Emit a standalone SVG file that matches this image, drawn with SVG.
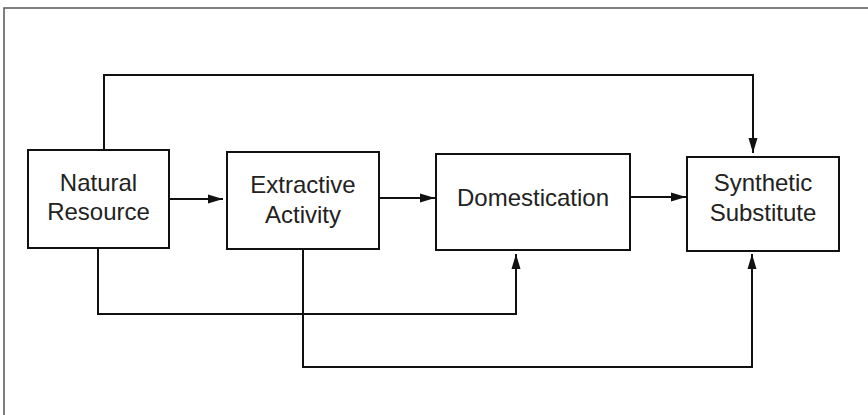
<svg xmlns="http://www.w3.org/2000/svg" width="868" height="415" viewBox="0 0 868 415">
<style>
.frame{fill:none;stroke:#555;stroke-width:1.5}
.box{fill:#fff;stroke:#111;stroke-width:2}
.lbl{font-family:"Liberation Sans",Arial,sans-serif;font-size:24px;fill:#222;text-anchor:middle}
.conn{fill:none;stroke:#111;stroke-width:2}
</style>
<defs>
<marker id="arr" markerUnits="userSpaceOnUse" markerWidth="16" markerHeight="10" viewBox="0 0 16 10" refX="15" refY="5" orient="auto">
<path d="M0,0.5 L15,5 L0,9.5 Z" fill="#111"/>
</marker>
</defs>
<rect class="frame" x="4" y="8" width="880" height="420"/>
<g id="connectors">
<path class="conn" d="M169,199 H223" marker-end="url(#arr)"/>
<path class="conn" d="M379,198 H435" marker-end="url(#arr)"/>
<path class="conn" d="M630,197 H686" marker-end="url(#arr)"/>
<path class="conn" d="M104,150 V75 H753 V153" marker-end="url(#arr)"/>
<path class="conn" d="M98,248 V314 H516 V254" marker-end="url(#arr)"/>
<path class="conn" d="M303,249 V367 H752 V254" marker-end="url(#arr)"/>
</g>
<g id="natural-resource">
<rect class="box" x="28" y="150" width="141" height="98"/>
<text class="lbl" x="98.5" y="191">Natural</text>
<text class="lbl" x="98.5" y="220">Resource</text>
</g>
<g id="extractive-activity">
<rect class="box" x="227" y="152" width="152" height="97"/>
<text class="lbl" x="303" y="193">Extractive</text>
<text class="lbl" x="303" y="223">Activity</text>
</g>
<g id="domestication">
<rect class="box" x="436" y="154" width="194" height="96"/>
<text class="lbl" x="533" y="206">Domestication</text>
</g>
<g id="synthetic-substitute">
<rect class="box" x="687" y="157" width="152" height="94"/>
<text class="lbl" x="763" y="190.5">Synthetic</text>
<text class="lbl" x="763" y="221">Substitute</text>
</g>
</svg>
